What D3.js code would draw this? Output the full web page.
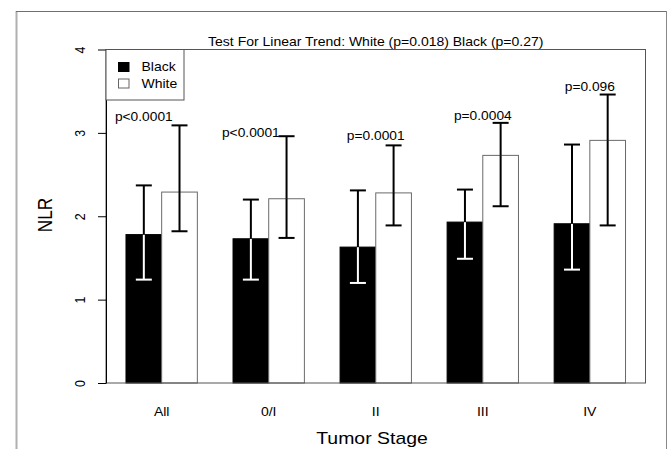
<!DOCTYPE html>
<html lang="en">
<head>
  <meta charset="UTF-8">
  <title>NLR by Tumor Stage</title>
  <script src="https://d3js.org/d3.v7.min.js"></script>
  <style>
    body { margin: 0; background: #fff; }
    svg { display: block; }
    text { font-family: "Liberation Sans", Arial, sans-serif; fill: #000; }
  </style>
</head>
<body>
  <svg id="chart" width="669" height="449"></svg>

  <script>
    // data
    const stages = ["All", "0/I", "II", "III", "IV"];
    const races = ["Black", "White"];
    const blackMean = [1.78, 1.73, 1.63, 1.93, 1.91];
    const blackLow  = [1.24, 1.24, 1.20, 1.49, 1.36];
    const blackHigh = [2.37, 2.20, 2.31, 2.32, 2.86];
    const whiteMean = [2.29, 2.21, 2.28, 2.73, 2.91];
    const whiteLow  = [1.82, 1.74, 1.89, 2.12, 1.89];
    const whiteHigh = [3.09, 2.96, 2.85, 3.12, 3.46];
    const pLabels = ["p<0.0001", "p<0.0001", "p=0.0001", "p=0.0004", "p=0.096"];
    const pLabelY = [3.19, 3.0, 2.96, 3.2, 3.55];
    const pLabelAt = ["Black", "Black", "group", "group", "group"];
    const yTicks = [0, 1, 2, 3, 4];
    const title = "Test For Linear Trend:  White (p=0.018) Black (p=0.27)";

    const SX = 1.13; // the source picture is a bit wider than tall
    const svg = d3.select("#chart");

    // outer frame of the figure
    svg.append("line").attr("x1", 16.5).attr("x2", 16.5).attr("y1", 11).attr("y2", 449)
      .attr("stroke", "#b0b0b0").attr("stroke-width", 2);
    svg.append("line").attr("x1", 16).attr("x2", 667).attr("y1", 11.5).attr("y2", 11.5)
      .attr("stroke", "#707070");
    svg.append("line").attr("x1", 666.5).attr("x2", 666.5).attr("y1", 11).attr("y2", 449)
      .attr("stroke", "#888");

    const pLeft = 106, pRight = 645.5, pTop = 49.5, pBottom = 383;

    const x0 = d3.scaleBand().domain(stages).range([pLeft, pRight])
      .paddingInner(1 / 3).paddingOuter(0.1867);
    const x1 = d3.scaleBand().domain(races).range([0, x0.bandwidth()]).padding(0);
    const y = d3.scaleLinear().domain([0, 4]).range([pBottom, pTop]);

    function label(parent, x, yy, str, size, anchor, rot) {
      const g = parent.append("g")
        .attr("transform", `translate(${x},${yy}) scale(${SX},1)` + (rot ? " rotate(-90)" : ""));
      g.append("text").attr("text-anchor", anchor || "middle").attr("dy", "0.35em")
        .style("font-size", size + "px").text(str);
      return g;
    }

    const rows = stages.map((s, i) => ({
      stage: s,
      vals: [
        {race: "Black", mean: blackMean[i], lo: blackLow[i], hi: blackHigh[i]},
        {race: "White", mean: whiteMean[i], lo: whiteLow[i], hi: whiteHigh[i]}
      ]
    }));

    // bars
    const groups = svg.selectAll("g.stage").data(rows).enter().append("g")
      .attr("class", "stage")
      .attr("transform", d => `translate(${x0(d.stage)},0)`);

    groups.selectAll("rect").data(d => d.vals).enter().append("rect")
      .attr("x", d => x1(d.race))
      .attr("y", d => y(d.mean))
      .attr("width", x1.bandwidth())
      .attr("height", d => y(0) - y(d.mean))
      .attr("fill", d => d.race === "Black" ? "#000" : "#fff")
      .attr("stroke", d => d.race === "Black" ? "#000" : "#6a6a6a")
      .attr("stroke-width", 1);

    // error bars: white inside the black bars, black elsewhere
    const cap = 8;
    groups.selectAll("g.err").data(d => d.vals).enter().append("g")
      .attr("class", "err")
      .each(function(d) {
        const g = d3.select(this);
        const cx = x1(d.race) + x1.bandwidth() / 2;
        const lowCol = d.race === "Black" ? "#fff" : "#000";
        g.append("line").attr("x1", cx).attr("x2", cx).attr("y1", y(d.mean)).attr("y2", y(d.lo))
          .attr("stroke", lowCol).attr("stroke-width", 2);
        g.append("line").attr("x1", cx - cap).attr("x2", cx + cap).attr("y1", y(d.lo)).attr("y2", y(d.lo))
          .attr("stroke", lowCol).attr("stroke-width", 2);
        g.append("line").attr("x1", cx).attr("x2", cx).attr("y1", y(d.mean)).attr("y2", y(d.hi))
          .attr("stroke", "#000").attr("stroke-width", 2);
        g.append("line").attr("x1", cx - cap).attr("x2", cx + cap).attr("y1", y(d.hi)).attr("y2", y(d.hi))
          .attr("stroke", "#000").attr("stroke-width", 2);
      });

    // plot box
    svg.append("rect").attr("x", pLeft).attr("y", pTop)
      .attr("width", pRight - pLeft).attr("height", pBottom - pTop)
      .attr("fill", "none").attr("stroke", "#555");

    // y axis
    const yAxis = svg.append("g").attr("transform", `translate(${pLeft},0)`)
      .call(d3.axisLeft(y).tickValues(yTicks).tickSize(8).tickSizeOuter(0).tickFormat(d3.format("d")));
    yAxis.select(".domain").attr("stroke", "#000");
    yAxis.selectAll(".tick line").attr("stroke", "#000");
    yAxis.selectAll(".tick text")
      .attr("x", 0).attr("dy", "0.35em").attr("text-anchor", "middle")
      .attr("transform", `translate(-26,0) scale(${SX},1) rotate(-90)`)
      .style("font-size", "12.4px").style("font-family", "\"Liberation Sans\", Arial, sans-serif")
      .attr("fill", "#000");

    // category labels
    stages.forEach(s => label(svg, x0(s) + x0.bandwidth() / 2, 412, s, 12.4));

    // p-values above each group
    stages.forEach((s, i) => {
      const cx = pLabelAt[i] === "group"
        ? x0(s) + x0.bandwidth() / 2
        : x0(s) + x1(pLabelAt[i]) + x1.bandwidth() / 2;
      label(svg, cx, y(pLabelY[i]), pLabels[i], 12.2);
    });

    // title
    label(svg, (pLeft + pRight) / 2, 42, title, 12.4);

    // axis titles
    label(svg, 372, 438, "Tumor Stage", 17.2);
    label(svg, 45, 215, "NLR", 17.2, "middle", true);

    // legend
    const lg = svg.append("g");
    lg.append("rect").attr("x", pLeft).attr("y", pTop).attr("width", 78).attr("height", 50.5)
      .attr("fill", "#fff").attr("stroke", "#555");
    races.forEach((r, i) => {
      const ly = 67 + i * 16.5;
      lg.append("rect").attr("x", 118.5).attr("y", ly - 4.5).attr("width", 10.5).attr("height", 9)
        .attr("fill", r === "Black" ? "#000" : "#fff")
        .attr("stroke", r === "Black" ? "#000" : "#666");
      label(lg, 141.5, ly, r, 12.4, "start");
    });
  </script>
</body>
</html>
